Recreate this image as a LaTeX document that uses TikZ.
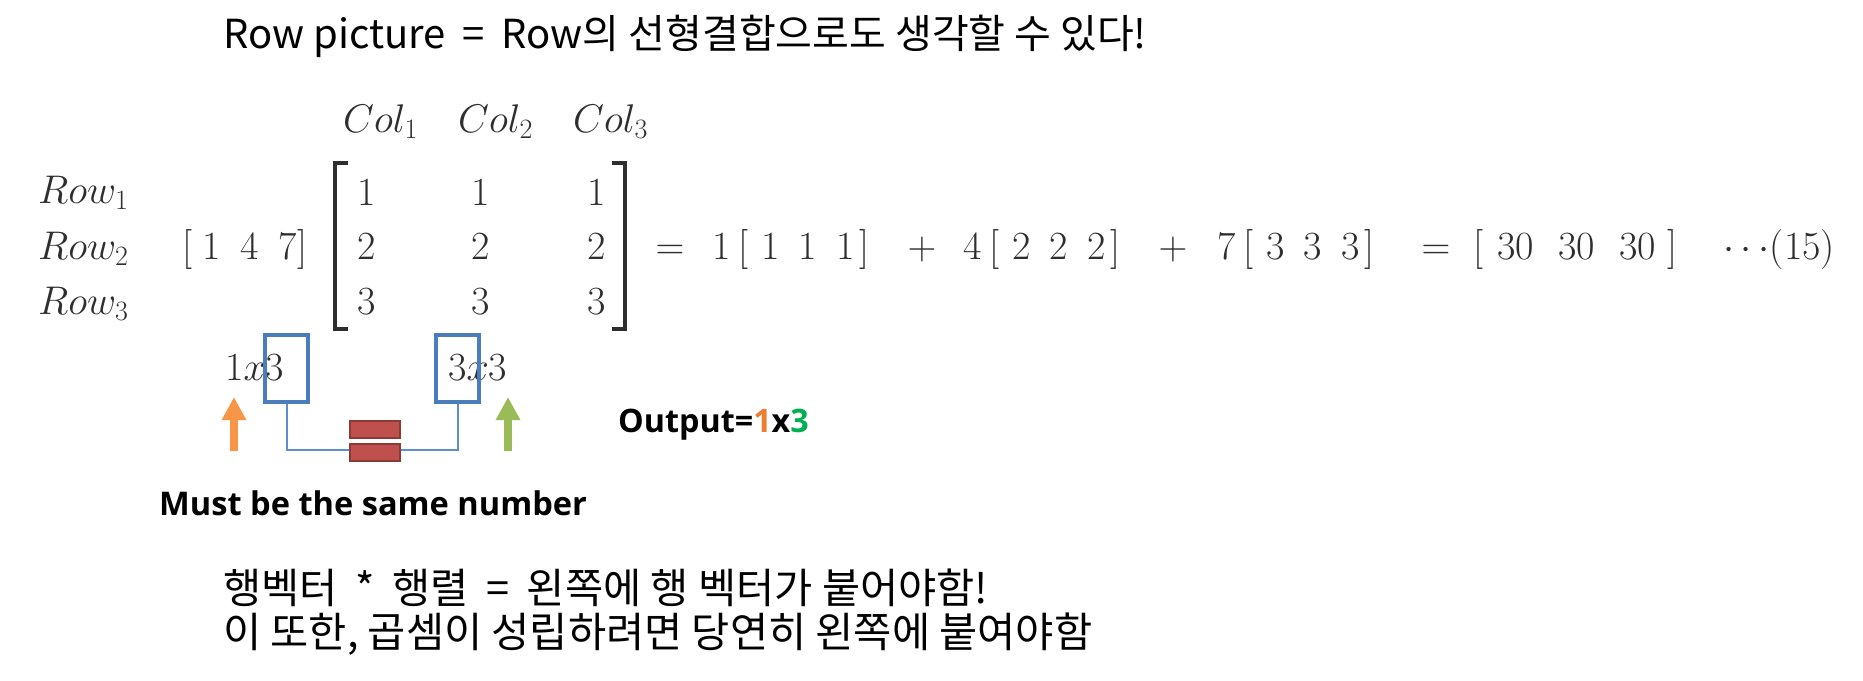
\RequirePackage{fix-cm}
\documentclass[tikz,border=0pt]{standalone}
\usepackage{fontspec}
\usetikzlibrary{arrows.meta}
\newfontfamily\kr{Noto Sans CJK KR}
\newfontfamily\osans{Open Sans}
\definecolor{eqgray}{HTML}{2E2E2E}
\definecolor{boxblue}{HTML}{4A7EBB}
\definecolor{connblue}{HTML}{5B8FD0}
\definecolor{redfill}{HTML}{C0504D}
\definecolor{redline}{HTML}{8C3A38}
\definecolor{arrorange}{HTML}{F79646}
\definecolor{arrgreen}{HTML}{9BBB59}
\definecolor{outorange}{HTML}{ED7D31}
\definecolor{outgreen}{HTML}{00B050}
\newcommand\vrow[4]{#1\hspace{0.21em}[\hspace{0.31em}#2\hspace{0.475em}#3\hspace{0.475em}#4\hspace{0.136em}]}
\tikzset{
  eq/.style={font=\fontsize{40}{48}\selectfont, inner sep=0pt, text=eqgray},
  krtext/.style={font=\kr\fontsize{40}{48}\selectfont, inner sep=0pt, text=black},
  krlow/.style={font=\kr\fontsize{41.5}{48}\selectfont, inner sep=0pt, text=black},
  boldtext/.style={font=\osans\bfseries\fontsize{32.6}{38}\selectfont, inner sep=0pt, text=black},
  brk/.style={draw=eqgray, line width=3.3pt},
  bluebox/.style={draw=boxblue, line width=3.5pt, minimum width=43pt, minimum height=67pt, inner sep=0pt},
  conn/.style={draw=connblue, line width=2pt},
  redbar/.style={draw=redline, fill=redfill, line width=2pt, minimum width=50pt, minimum height=17pt, inner sep=0pt},
  uparrow/.style={line width=8pt, -{Triangle[width=23pt,length=23pt]}}
}
\begin{document}
\begin{tikzpicture}[x=1pt,y=-1pt]
\useasboundingbox[fill=white] (0,0) rectangle (1863,680);
% title
\node[krtext, anchor=base west] (title) at (223,48) {Row picture\hspace{0.2em} = \hspace{0.2em}Row의 선형결합으로도 생각할 수 있다!};
% column labels
\node[eq, anchor=base west] (c1) at (343,132) {$Col_1$};
\node[eq, anchor=base west] (c2) at (458,132) {$Col_2$};
\node[eq, anchor=base west] (c3) at (573,132) {$Col_3$};
% row labels
\node[eq, anchor=base west] (r1) at (38,203) {$Row_1$};
\node[eq, anchor=base west] (r2) at (38,259) {$Row_2$};
\node[eq, anchor=base west] (r3) at (38,314) {$Row_3$};
% row vector
\node[eq, anchor=base west] (vec) at (182,259) {[\hspace{0.25em}1\hspace{0.5em}4\hspace{0.5em}7]};
% matrix
\draw[brk] (348,163) -- (335,163) -- (335,329) -- (348,329);
\draw[brk] (612,163) -- (625,163) -- (625,329) -- (612,329);
\node[eq, anchor=base] (m11) at (367,205) {1};
\node[eq, anchor=base] (m12) at (481,205) {1};
\node[eq, anchor=base] (m13) at (597,205) {1};
\node[eq, anchor=base] (m21) at (367,259) {2};
\node[eq, anchor=base] (m22) at (481,259) {2};
\node[eq, anchor=base] (m23) at (597,259) {2};
\node[eq, anchor=base] (m31) at (367,314) {3};
\node[eq, anchor=base] (m32) at (481,314) {3};
\node[eq, anchor=base] (m33) at (597,314) {3};
% right-hand side
\node[eq, anchor=base] (e1) at (670,259) {$=$};
\node[eq, anchor=base west] (t1) at (712,259) {\vrow{1}{1}{1}{1}};
\node[eq, anchor=base] (p1) at (922,259) {$+$};
\node[eq, anchor=base west] (t2) at (963,259) {\vrow{4}{2}{2}{2}};
\node[eq, anchor=base] (p2) at (1173,259) {$+$};
\node[eq, anchor=base west] (t3) at (1217,259) {\vrow{7}{3}{3}{3}};
\node[eq, anchor=base] (e2) at (1436,259) {$=$};
\node[eq, anchor=base west] (res) at (1473.5,259) {[\hspace{0.34em}30\hspace{0.61em}30\hspace{0.61em}30\hspace{0.29em}]};
\node[eq, anchor=base west] (num) at (1723,259) {$\cdots$(15)};
% dimensions
\node[eq, anchor=base west] (d1) at (225,380) {1$x$3};
\node[eq, anchor=base west] (d2) at (448,380) {3$x$3};
\node[bluebox] (b1) at (286.5,368.5) {};
\node[bluebox] (b2) at (457.5,368.5) {};
\draw[conn] (b1.south) -- ++(0,46) -| (b2.south);
\node[redbar] (q1) at (375,429.5) {};
\node[redbar] (q2) at (375,452.5) {};
% arrows
\coordinate (oa0) at (234,451);
\coordinate (oa1) at (234,397);
\coordinate (ga0) at (508,451);
\coordinate (ga1) at (508,397);
\draw[uparrow, arrorange] (oa0) -- (oa1);
\draw[uparrow, arrgreen] (ga0) -- (ga1);
% output
\node[boldtext, font=\osans\bfseries\fontsize{32.3}{38}\selectfont, anchor=base west] (out) at (618,432) {Output=\textcolor{outorange}{1}x\textcolor{outgreen}{3}};
\node[boldtext, anchor=base west] (must) at (159,515) {Must be the same number};
% bottom Korean text
\node[krlow, anchor=base west] (k1) at (223,603) {행벡터\hspace{0.2em} * \hspace{0.2em}행렬\hspace{0.2em} = \hspace{0.2em}왼쪽에 행 벡터가 붙어야함!};
\node[krlow, anchor=base west] (k2) at (223,647) {이 또한, 곱셈이 성립하려면 당연히 왼쪽에 붙여야함};
\end{tikzpicture}
\end{document}
